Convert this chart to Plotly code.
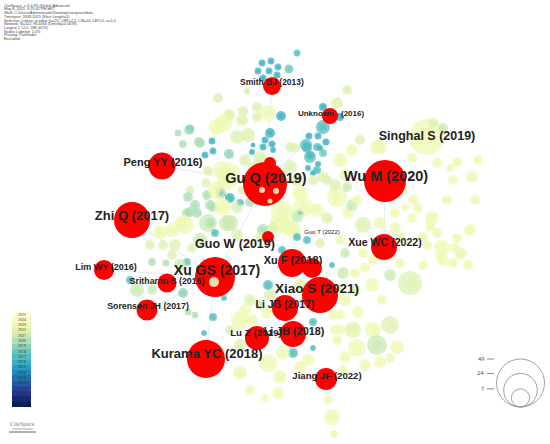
import numpy as np
import plotly.graph_objects as go

# ---- cited references (red nodes) ----
red_labels = ["Smith BJ (2013)", "Unknown - (2016)", "Peng YY (2016)", "Gu Q (2019)",
              "Wu M (2020)", "Zhi Q (2017)", "Xu GS (2017)", "Lim WY (2016)",
              "Sritharan S (2016)", "Sorensen JH (2017)", "Xu F (2018)", "Xiao S (2021)",
              "Li JB (2017)", "Li JB (2018)", "Lu Z (2019)", "Kurama YC (2018)",
              "Jiang JF (2022)", "Xue WC (2022)", "", "", ""]
red_x = [272, 330, 162, 265, 385, 132, 215, 104, 167, 147, 292, 320, 285, 293, 257, 206, 326, 384, 312, 268, 270]
red_y = [86, 116, 166, 184, 181, 220, 277, 270, 283, 310, 263, 295, 308, 334, 338, 359, 379, 247, 268, 237, 163]
red_size = [18, 16, 27, 44, 42, 36, 40, 20, 19, 21, 28, 36, 26, 26, 24, 38, 22, 26, 20, 12, 12]

# label anchor points
label_x = [272, 331, 163, 266, 386, 132, 217, 106, 167, 148, 293, 317, 285, 294, 256, 207, 327, 385, 0, 0, 0]
label_y = [83, 114, 163, 179, 177, 217, 271, 268, 282, 307, 261, 290, 305, 332, 334, 355, 377, 243, 0, 0, 0]
label_size = [8.5, 8, 11, 14.5, 14.5, 13, 14, 9, 8.8, 8.8, 11, 13.5, 10.5, 10.8, 9.8, 13, 9.6, 10.6, 0, 0, 0]

# labelled nodes that are not red (hidden under the crowd)
extra_labels = ["Singhal S (2019)", "Guo W (2019)"]
extra_x = [427, 235]
extra_y = [137, 245]
extra_size = [12.5, 12.5]

# burst highlights inside Gu Q
spot_x = [262, 276, 270, 214]
spot_y = [190, 191, 201, 282]
spot_size = [6, 6, 5, 10]

# pink rings (centrality)
ring_x = [234, 322]
ring_y = [248, 234]
ring_size = [35, 15]
ring_labels = ["", "Guo T (2022)"]

# edges between cited references (index pairs)
edges = [(5, 6), (7, 6), (9, 6), (8, 6), (0, 3), (15, 6), (3, 6), (2, 3), (10, 11), (12, 13), (14, 15), (4, 17), (1, 3)]

# ---- other nodes: x, y, diameter, year ----
node_x = [
    262, 271, 278, 258, 269, 277, 263, 289, 297,
    247, 218, 347, 337,
    323, 340, 323, 309, 318, 326, 306, 310, 320, 308, 318, 313,
    295, 281, 268, 257, 257, 229, 243, 242, 223, 217, 248, 237, 270, 265, 272, 263, 273, 253, 252,
    212, 213, 229, 205, 189, 183, 200, 245, 260, 290, 323, 377,
    178, 190, 199, 208, 206, 222, 227, 220, 242, 229, 240, 213, 195, 190,
    188, 207, 221, 230, 187, 197, 185, 208, 227, 215, 192, 152, 166, 130, 137, 152, 183, 187, 230, 224,
    195, 213, 204, 188, 253, 267, 277, 280, 293, 300, 263, 260, 282,
    260, 253, 290, 307, 317, 310, 323, 317, 297, 313, 327, 300, 303, 297, 317, 327, 282, 287, 273,
    230, 217, 222, 210, 237, 250, 190, 183, 210, 230, 237, 297, 307, 320, 172, 163,
    427, 433, 443, 380, 412, 437, 457, 450, 453, 472, 447, 413, 395, 405, 418, 412, 432, 430, 437,
    380, 363, 348, 352, 337, 347, 403, 457, 462, 427, 440, 340, 352, 345, 360, 335, 357,
    442, 455, 460, 453, 443, 423, 400, 410, 390, 382, 358, 340, 353, 373, 390, 377, 357, 397, 390,
    365, 380, 345, 343, 337, 335, 328, 332, 334, 340, 345, 363, 343, 355, 365, 373, 400, 423, 332,
    240, 252, 267, 313, 333, 340, 353, 293, 313, 283, 308, 268, 240, 280, 300, 278,
    300, 305, 270, 260, 250, 268, 340, 345, 240, 230, 245,
    160, 175, 150, 250, 265, 475, 470, 478, 468, 395, 372, 355, 200, 180, 172,
]
node_y = [
    63, 61, 67, 71, 71, 75, 78, 69, 53,
    91, 98, 90, 103,
    107, 117, 127, 136, 136, 142, 145, 157, 148, 168, 164, 173,
    148, 116, 113, 107, 117, 115, 111, 120, 123, 127, 135, 137, 133, 140, 144, 147, 150, 145, 152,
    141, 151, 154, 155, 130, 144, 143, 160, 164, 167, 177, 147,
    133, 129, 142, 171, 183, 170, 180, 190, 190, 198, 203, 207, 205, 190,
    197, 195, 193, 198, 213, 213, 225, 223, 223, 233, 248, 262, 263, 280, 290, 290, 293, 262, 286, 298,
    315, 317, 333, 312, 195, 200, 192, 223, 230, 213, 230, 237, 250,
    158, 167, 147, 148, 147, 155, 153, 170, 180, 180, 180, 193, 207, 217, 210, 218, 212, 227, 228,
    173, 190, 207, 205, 207, 202, 212, 223, 223, 223, 235, 237, 240, 243, 230, 245,
    137, 123, 128, 147, 158, 163, 162, 168, 180, 177, 200, 200, 213, 207, 208, 218, 218, 227, 233,
    223, 225, 213, 205, 197, 187, 190, 238, 253, 245, 257, 160, 150, 175, 140, 185, 200,
    248, 248, 255, 263, 260, 265, 263, 283, 275, 300, 312, 315, 330, 330, 325, 345, 348, 347, 358,
    365, 362, 357, 370, 340, 330, 400, 417, 434, 240, 253, 253, 273, 273, 268, 260, 237, 237, 265,
    320, 320, 313, 322, 315, 330, 332, 353, 348, 353, 360, 363, 373, 377, 367, 393,
    285, 300, 295, 305, 300, 285, 290, 300, 345, 330, 310,
    232, 245, 245, 390, 398, 200, 230, 160, 265, 228, 285, 290, 240, 265, 255,
]
node_size = [
    7, 7, 7, 7, 7, 7, 7, 9, 7,
    6, 10, 10, 12,
    8, 8, 14, 7, 7, 7, 12, 12, 6, 6, 6, 6,
    10, 10, 16, 10, 10, 12, 10, 12, 18, 16, 14, 14, 10, 7, 7, 7, 6, 5, 6,
    7, 7, 10, 7, 10, 8, 10, 12, 14, 14, 12, 14,
    7, 9, 10, 10, 9, 18, 20, 8, 8, 8, 8, 10, 10, 9,
    10, 10, 10, 10, 10, 10, 18, 18, 16, 8, 10, 8, 7, 8, 14, 10, 10, 8, 7, 6,
    7, 8, 6, 7, 12, 12, 12, 20, 16, 8, 12, 10, 8,
    14, 10, 10, 10, 8, 8, 8, 8, 12, 10, 10, 16, 20, 12, 14, 12, 22, 16, 12,
    20, 18, 18, 10, 12, 10, 10, 16, 10, 16, 12, 8, 8, 10, 14, 10,
    36, 10, 10, 14, 10, 10, 10, 8, 10, 12, 10, 10, 10, 8, 10, 10, 14, 10, 10,
    12, 16, 12, 12, 20, 10, 10, 10, 10, 10, 10, 14, 12, 12, 10, 12, 10,
    16, 10, 10, 10, 12, 10, 10, 24, 12, 10, 12, 10, 16, 16, 18, 20, 18, 14, 10,
    12, 12, 12, 10, 10, 10, 10, 16, 8, 10, 10, 10, 12, 10, 10, 10, 10, 10, 6,
    18, 12, 12, 8, 10, 10, 12, 10, 6, 14, 12, 18, 14, 14, 12, 12,
    12, 10, 12, 10, 12, 10, 10, 12, 12, 10, 12,
    14, 12, 10, 10, 8, 10, 12, 10, 10, 12, 14, 12, 14, 12, 10,
]
node_year = [
    2016, 2016, 2016, 2016, 2016, 2016, 2016, 2018, 2017,
    2021, 2022, 2022, 2022,
    2016, 2016, 2017, 2016, 2016, 2016, 2017, 2017, 2016, 2016, 2016, 2016,
    2022, 2016, 2023, 2022, 2022, 2022, 2022, 2022, 2023, 2023, 2022, 2022, 2016, 2016, 2016, 2016, 2016, 2016, 2016,
    2016, 2016, 2019, 2016, 2020, 2020, 2020, 2022, 2022, 2022, 2022, 2023,
    2020, 2019, 2020, 2022, 2022, 2023, 2023, 2020, 2022, 2018, 2017, 2020, 2020, 2022,
    2020, 2020, 2017, 2017, 2020, 2020, 2023, 2021, 2021, 2017, 2022, 2020, 2020, 2017, 2021, 2021, 2019, 2018, 2017, 2017,
    2020, 2017, 2017, 2020, 2020, 2021, 2023, 2023, 2023, 2017, 2020, 2022, 2017,
    2022, 2022, 2022, 2017, 2017, 2017, 2018, 2017, 2022, 2022, 2022, 2023, 2023, 2021, 2023, 2022, 2023, 2023, 2022,
    2023, 2023, 2023, 2020, 2022, 2020, 2020, 2023, 2020, 2021, 2022, 2017, 2017, 2022, 2023, 2022,
    2023, 2022, 2021, 2023, 2023, 2023, 2023, 2023, 2023, 2023, 2023, 2023, 2023, 2023, 2023, 2023, 2023, 2023, 2023,
    2023, 2022, 2023, 2021, 2023, 2021, 2023, 2023, 2023, 2023, 2023, 2023, 2023, 2023, 2022, 2022, 2023,
    2023, 2023, 2023, 2023, 2023, 2023, 2023, 2022, 2021, 2023, 2023, 2023, 2022, 2023, 2022, 2021, 2023, 2023, 2023,
    2023, 2023, 2023, 2023, 2023, 2023, 2023, 2023, 2023, 2023, 2021, 2023, 2021, 2023, 2023, 2023, 2023, 2023, 2017,
    2023, 2023, 2023, 2017, 2023, 2023, 2023, 2017, 2017, 2023, 2023, 2023, 2023, 2023, 2023, 2023,
    2022, 2022, 2022, 2021, 2022, 2017, 2023, 2023, 2022, 2022, 2023,
    2023, 2022, 2022, 2023, 2023, 2023, 2023, 2023, 2023, 2023, 2023, 2022, 2021, 2021, 2022,
]

# ---- legends ----
years = [2008, 2009, 2010, 2011, 2012, 2013, 2014, 2015, 2016,
         2017, 2018, 2019, 2020, 2021, 2022, 2023, 2024, 2025]
size_legend = [49, 24, 7]

header_lines = [
    "CiteSpace, v. 6.4.R1 (64-bit) Advanced",
    "May 8, 2025, 9:25:42 PM HKT",
    "WoS: C:\\Users\\Administrator\\Desktop\\citespace\\data",
    "Timespan: 2008-2025 (Slice Length=1)",
    "Selection Criteria: g-index (k=25), LRF=2.5, L/N=10, LBY=5, e=1.0",
    "Network: N=522, E=1064 (Density=0.0078)",
    "Largest 1 CCs: 338 (62%)",
    "Nodes Labeled: 1.0%",
    "Pruning: Pathfinder",
    "Excluded:",
]

cscale = [[0, '#081d58'], [0.125, '#253494'], [0.25, '#225ea8'], [0.375, '#1d91c0'],
          [0.5, '#41b6c4'], [0.625, '#7fcdbb'], [0.75, '#c7e9b4'], [0.875, '#edf8b1'], [1, '#ffffd9']]

fig = go.Figure()

# edges
ex, ey = [], []
for a, b in edges:
    ex += [red_x[a], red_x[b], None]
    ey += [red_y[a], red_y[b], None]
fig.add_trace(go.Scatter(x=ex, y=ey, mode='lines', line=dict(color='#cfe9f2', width=0.7),
                         hoverinfo='skip'))

# background nodes (outer ring + core)
fig.add_trace(go.Scatter(
    x=node_x, y=node_y, mode='markers',
    marker=dict(size=node_size, color=node_year, colorscale=cscale, cmin=2008, cmax=2025,
                opacity=0.75, line=dict(width=0))))
fig.add_trace(go.Scatter(
    x=node_x, y=node_y, mode='markers',
    marker=dict(size=[s * 0.5 for s in node_size], color=node_year, colorscale=cscale,
                cmin=2008, cmax=2025, opacity=0.55, line=dict(width=0))))

# cited references in red
fig.add_trace(go.Scatter(x=red_x, y=red_y, mode='markers',
                         marker=dict(size=red_size, color='#ff0000', opacity=1, line=dict(width=0))))
fig.add_trace(go.Scatter(x=spot_x, y=spot_y, mode='markers',
                         marker=dict(size=spot_size, color='#f3efc8', opacity=0.9, line=dict(width=0))))

# centrality rings
fig.add_trace(go.Scatter(x=ring_x, y=ring_y, mode='markers',
                         marker=dict(size=ring_size, color='rgba(0,0,0,0)', symbol='circle-open',
                                     line=dict(color='#e0259b', width=1.3))))

# labels
lab = [i for i, t in enumerate(red_labels) if t]
fig.add_trace(go.Scatter(
    x=[label_x[i] for i in lab] + extra_x, y=[label_y[i] for i in lab] + extra_y, mode='text',
    text=['<b>' + t + '</b>' for t in [red_labels[i] for i in lab] + extra_labels],
    textposition='middle center',
    textfont=dict(family='Arial', size=[label_size[i] for i in lab] + extra_size, color='#222222')))
fig.add_trace(go.Scatter(x=[ring_x[1]], y=[ring_y[1] - 2], mode='text', text=[ring_labels[1]],
                         textfont=dict(family='Arial', size=6, color='#222222')))

# year colour bar
edges_y = np.linspace(407, 312, len(years) + 1)
fig.add_trace(go.Heatmap(
    x=[12, 31], y=edges_y, z=[[y] for y in years], colorscale=cscale, zmin=2008, zmax=2025,
    showscale=False, texttemplate='%{z}', textfont=dict(size=3.5, color='#333333'),
    hoverinfo='skip'))

shapes = []
annotations = []

# size legend
big = 48
for v in size_legend:
    d = big * np.sqrt(v / size_legend[0])
    shapes.append(dict(type='circle', xref='x', yref='y', x0=520.5 - d / 2, x1=520.5 + d / 2,
                       y0=407 - d, y1=407, line=dict(color='#8a8a8a', width=0.8)))
    shapes.append(dict(type='line', xref='x', yref='y', x0=487, x1=494, y0=407 - d, y1=407 - d,
                       line=dict(color='#555555', width=0.7)))
    annotations.append(dict(x=486, y=407 - d, xref='x', yref='y', text=str(v), showarrow=False,
                            xanchor='right', yanchor='middle', font=dict(size=5.5, color='#444444')))

# header block
for i, t in enumerate(header_lines):
    annotations.append(dict(x=2, y=5.7 + i * 3.7, xref='x', yref='y', text=t, showarrow=False,
                            xanchor='left', yanchor='middle',
                            font=dict(family='Arial', size=3.8, color='#444444')))

# logo
annotations.append(dict(x=22, y=424, xref='x', yref='y', text='CiteSpace', showarrow=False,
                        font=dict(family='Times New Roman', size=6, color='#777777')))
shapes.append(dict(type='line', xref='x', yref='y', x0=9, x1=36, y0=432, y1=432,
                   line=dict(color='#999999', width=1.5)))
shapes.append(dict(type='line', xref='x', yref='y', x0=12, x1=33, y0=429, y1=429,
                   line=dict(color='#aaaaaa', width=1)))

fig.update_layout(
    width=550, height=444,
    margin=dict(l=0, r=0, t=0, b=0),
    paper_bgcolor='white', plot_bgcolor='white',
    showlegend=False, hovermode=False,
    xaxis=dict(range=[0, 550], visible=False, fixedrange=True),
    yaxis=dict(range=[444, 0], visible=False, fixedrange=True),
    shapes=shapes, annotations=annotations,
)

# drop the browser's default 8px body margin so the figure sits at the page corner
fig.write_html("out.html", config={'displayModeBar': False},
               post_script="document.body.style.margin='0';")
